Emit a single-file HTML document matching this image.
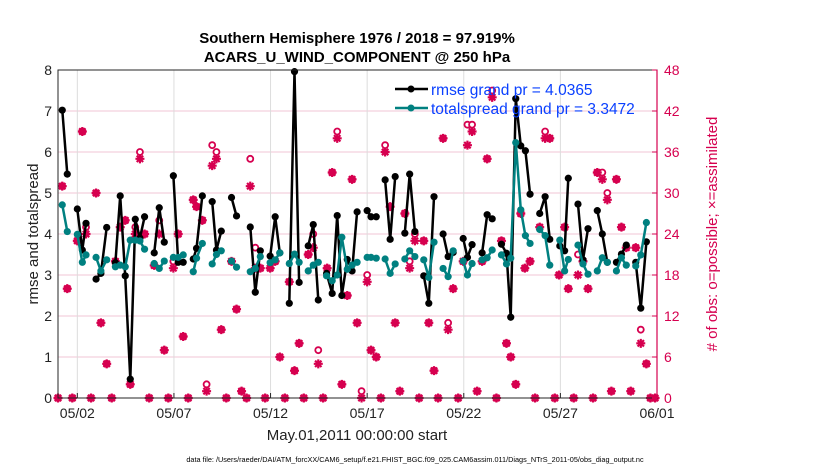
<!DOCTYPE html>
<html><head><meta charset="utf-8"><style>
body{margin:0;background:#fff;}
svg{display:block;font-family:"Liberation Sans",Arial,sans-serif;}
</style></head><body>
<svg id="chart" width="830" height="470" viewBox="0 0 830 470" xmlns="http://www.w3.org/2000/svg">
<rect width="830" height="470" fill="#fff"/>
<g id="grid"></g>
<g id="series"></g>
<rect x="58" y="70" width="599" height="328" fill="none" stroke="#262626" stroke-width="1"/>
<g id="axes"></g>
<text x="357" y="43" text-anchor="middle" font-size="15" font-weight="bold" fill="#000">Southern Hemisphere 1976 / 2018 = 97.919%</text>
<text x="357" y="62" text-anchor="middle" font-size="15" font-weight="bold" fill="#000">ACARS_U_WIND_COMPONENT @ 250 hPa</text>
<text x="357" y="440" text-anchor="middle" font-size="15" fill="#222">May.01,2011 00:00:00 start</text>
<text transform="translate(38,234) rotate(-90)" text-anchor="middle" font-size="15" fill="#222">rmse and totalspread</text>
<text transform="translate(717,234) rotate(-90)" text-anchor="middle" font-size="15" fill="#d6004f"># of obs: o=possible; ×=assimilated</text>
<text x="415" y="462" text-anchor="middle" font-size="7.3" fill="#000">data file: /Users/raeder/DAI/ATM_forcXX/CAM6_setup/f.e21.FHIST_BGC.f09_025.CAM6assim.011/Diags_NTrS_2011-05/obs_diag_output.nc</text>
<g>
<line x1="395" y1="89" x2="428" y2="89" stroke="#000" stroke-width="2.5"/>
<circle cx="411" cy="89" r="3.5" fill="#000"/>
<text x="431" y="95" font-size="15.5" fill="#0a40ff">rmse grand pr = 4.0365</text>
<line x1="395" y1="108" x2="428" y2="108" stroke="#008080" stroke-width="2.5"/>
<circle cx="411" cy="108" r="3.5" fill="#008080"/>
<text x="431" y="114" font-size="15.5" fill="#0a40ff">totalspread grand pr = 3.3472</text>
</g>
</svg>
<script>
const seriesTimes=[0.22,0.48,1.0,1.26,1.45,1.97,2.22,2.52,2.97,3.22,3.48,3.74,4.0,4.24,4.48,4.98,5.24,5.5,5.97,6.22,6.48,7.0,7.17,7.47,7.98,8.2,8.45,8.98,9.24,9.95,10.21,10.47,10.98,11.24,11.48,11.97,12.24,12.48,12.95,13.21,13.47,13.9,14.19,14.45,14.69,14.97,15.22,15.48,16.0,16.2,16.47,16.93,17.19,17.45,17.95,18.2,18.47,18.93,19.19,19.46,19.93,20.19,20.45,20.97,21.19,21.43,21.95,22.21,22.47,22.95,23.21,23.43,23.69,23.95,24.19,24.43,24.93,25.21,25.45,25.97,26.22,26.41,26.91,27.17,27.43,27.91,28.17,28.43,28.9,29.16,29.41,29.9,30.16,30.45];
const rmse=[7.02,5.46,4.61,3.61,4.26,2.90,3.04,4.16,3.3,4.93,2.98,0.46,4.36,3.9,4.42,3.54,4.64,3.80,5.42,3.31,3.31,3.39,3.65,4.93,4.79,3.61,4.07,4.89,4.44,4.17,2.58,3.59,3.46,4.42,3.54,2.31,7.96,2.82,3.71,4.23,2.39,3.04,2.55,4.45,2.50,3.38,3.1,4.54,4.57,4.42,4.42,5.32,3.87,5.40,4.02,5.46,4.06,2.98,2.31,4.91,4.0,3.45,3.55,3.89,3.43,3.74,3.54,4.47,4.37,3.75,3.53,1.97,7.30,6.15,6.03,4.97,4.50,4.91,3.87,3.71,3.59,5.36,4.73,3.37,4.13,4.57,4.0,3.31,3.31,3.51,3.73,3.31,2.19,3.81];
const totalspread=[4.71,4.06,3.99,3.31,3.49,3.43,3.1,3.37,3.2,3.24,3.2,3.85,3.85,3.83,3.63,3.28,3.16,3.34,3.43,3.43,3.49,3.08,3.41,3.77,3.27,3.50,3.59,3.34,3.19,3.08,3.16,3.45,3.3,3.37,3.54,3.28,3.51,3.31,3.1,3.24,3.31,2.98,2.86,3.0,3.92,3.14,3.24,3.31,3.43,3.43,3.41,3.39,3.04,3.27,3.39,3.59,3.45,3.37,2.94,3.8,3.16,2.96,3.59,3.34,3.0,3.28,3.37,3.42,3.61,3.49,3.27,3.41,6.23,4.59,3.96,3.77,4.11,3.96,3.24,3.85,3.1,3.38,3.73,3.27,3.02,3.1,3.42,3.31,3.1,3.42,3.24,3.22,3.49,4.28];
const obsTimes=[0,0.22,0.48,0.74,1.0,1.26,1.45,1.71,1.97,2.22,2.52,2.78,2.97,3.22,3.48,3.74,4.0,4.24,4.48,4.72,4.98,5.24,5.5,5.71,5.97,6.22,6.48,6.74,7.0,7.17,7.47,7.69,7.98,8.2,8.45,8.71,8.98,9.24,9.5,9.76,9.95,10.21,10.47,10.72,10.98,11.24,11.48,11.74,11.97,12.24,12.48,12.72,12.95,13.21,13.47,13.72,13.93,14.19,14.45,14.69,14.97,15.22,15.48,15.71,16.0,16.2,16.47,16.71,16.93,17.19,17.45,17.69,17.95,18.2,18.47,18.69,18.93,19.19,19.46,19.67,19.93,20.19,20.45,20.71,20.97,21.19,21.43,21.69,21.95,22.21,22.47,22.69,22.95,23.21,23.43,23.69,23.95,24.16,24.43,24.69,24.93,25.21,25.45,25.71,25.93,26.22,26.41,26.69,26.91,27.17,27.43,27.69,27.91,28.17,28.43,28.64,28.9,29.16,29.41,29.64,29.9,30.16,30.45,30.66,30.9];
const obsAssimilated=[0,31,16,0,23,39,24,0,30,11,5,0,20,25,26,2,24,35,24,0,19.4,24,7,0,19,24,9,0,29,28,26,1,34,35,10,0,20,13,1,0,31,19,19,0,19,20,6,0,17,4,8,0,21,22,5,0,19,33,38,2,15,32,11,0,17,7,6,0,36,28,11,1,27,19,23,0,23,11,4,0,38,10,16,0,20,37,39,1,20,35,44,0,23,8,6,2,27,19,20,0,25,38,38,0,18,25,16,0,18,20,16,0,33,32,29,1,32,25,22,1,22,8,5,0,0];
const obsPossible=[0,31,16,0,23,39,25,0,30,11,5,0,20,25,26,2,25,36,24,0,19.4,26,7,0,20,24,9,0,29,28,26,2,37,36,10,0,20,13,1,0,35,22,19,0,19,20,6,0,17,4,8,0,21,24,7,0,19,33,39,2,15,32,11,1,18,7,6,0,37,28,11,1,27,20,24,0,23,11,4,0,38,11,16,0,20,40,40,1,20,35,45,0,23,8,6,2,27,19,20,0,25,39,38,0,18,25,16,0,21,20,16,0,33,33,30,1,32,25,22,1,22,10,5,0,0];
const xTickDays=[1,6,11,16,21,26,31];
const xTickLabels=["05/02","05/07","05/12","05/17","05/22","05/27","06/01"];
const leftTicks=[0,1,2,3,4,5,6,7,8];
const rightTicks=[0,6,12,18,24,30,36,42,48];

const X0=58,X1=657,Y0=398,Y1=70;
const xs=t=>X0+(X1-X0)*t/31;
const yl=v=>Y0-(Y0-Y1)*v/8;
const yr=c=>Y0-(Y0-Y1)*c/48;
const NS="http://www.w3.org/2000/svg";
const PINK="#d6004f",TEAL="#008080";
function mk(tag,attrs,parent){const e=document.createElementNS(NS,tag);for(const k in attrs)e.setAttribute(k,attrs[k]);parent.appendChild(e);return e;}
const grid=document.getElementById('grid'),axes=document.getElementById('axes'),ser=document.getElementById('series');

rightTicks.forEach((c,i)=>{
  if(i===0||i===rightTicks.length-1)return;
  const l=mk('line',{x1:X0,x2:X1,y1:yr(c),y2:yr(c),stroke:'#f2c4d4','stroke-width':1},grid);
  
  
});
xTickDays.forEach(d=>{
  const l=mk('line',{x1:xs(d),x2:xs(d),y1:Y0,y2:Y1,stroke:'#dcdcdc','stroke-width':1},grid);
  
  
});
xTickDays.forEach((d,i)=>{
  const tk=mk('line',{x1:xs(d),x2:xs(d),y1:Y0,y2:Y0-5,stroke:'#262626'},axes);
  
  
  const t=mk('text',{x:xs(d),y:418,'text-anchor':'middle','font-size':14,fill:'#222'},axes);
  t.textContent=xTickLabels[i];
  
  
});
leftTicks.forEach(v=>{
  const t=mk('text',{x:52,y:yl(v)+5,'text-anchor':'end','font-size':14,fill:'#222'},axes);
  t.textContent=v;
  
  
});
mk('line',{x1:X1,x2:X1,y1:Y0,y2:Y1,stroke:PINK,'stroke-width':1.2},axes);
rightTicks.forEach(c=>{
  const tk=mk('line',{x1:X1,x2:X1-5,y1:yr(c),y2:yr(c),stroke:PINK},axes);
  
  
  const t=mk('text',{x:664,y:yr(c)+5,'font-size':14,fill:PINK},axes);
  t.textContent=c;
  
  
});

// obs counts
const nObs=Math.min(obsTimes.length,obsAssimilated.length,obsPossible.length);
for(let i=0;i<nObs;i++){
  const c=mk('circle',{cx:xs(obsTimes[i]),cy:yr(obsPossible[i]),r:3,fill:'#fff',stroke:PINK,'stroke-width':1.8},ser);
  
  
}
for(let i=0;i<nObs;i++){
  const x=xs(obsTimes[i]),y=yr(obsAssimilated[i]),s=4.5,d=3.2;
  const g=mk('path',{d:`M${x-s},${y}H${x+s}M${x},${y-s}V${y+s}M${x-d},${y-d}L${x+d},${y+d}M${x-d},${y+d}L${x+d},${y-d}`,stroke:PINK,'stroke-width':2.2,fill:'none'},ser);
  
  
}
function drawSeries(vals,color,name){
  const n=Math.min(seriesTimes.length,vals.length);
  let d='';
  for(let i=0;i<n;i++){
    const brk=i===0||seriesTimes[i]-seriesTimes[i-1]>0.35;
    d+=(brk?'M':'L')+xs(seriesTimes[i]).toFixed(1)+','+yl(vals[i]).toFixed(1);
  }
  const p=mk('path',{d:d,stroke:color,'stroke-width':2.5,fill:'none','stroke-linejoin':'round'},ser);
  
  
  for(let i=0;i<n;i++){
    const c=mk('circle',{cx:xs(seriesTimes[i]),cy:yl(vals[i]),r:3.6,fill:color},ser);
    
    
  }
}
drawSeries(rmse,'#000','rmse');
drawSeries(totalspread,TEAL,'totalspread');
</script>
</body></html>
